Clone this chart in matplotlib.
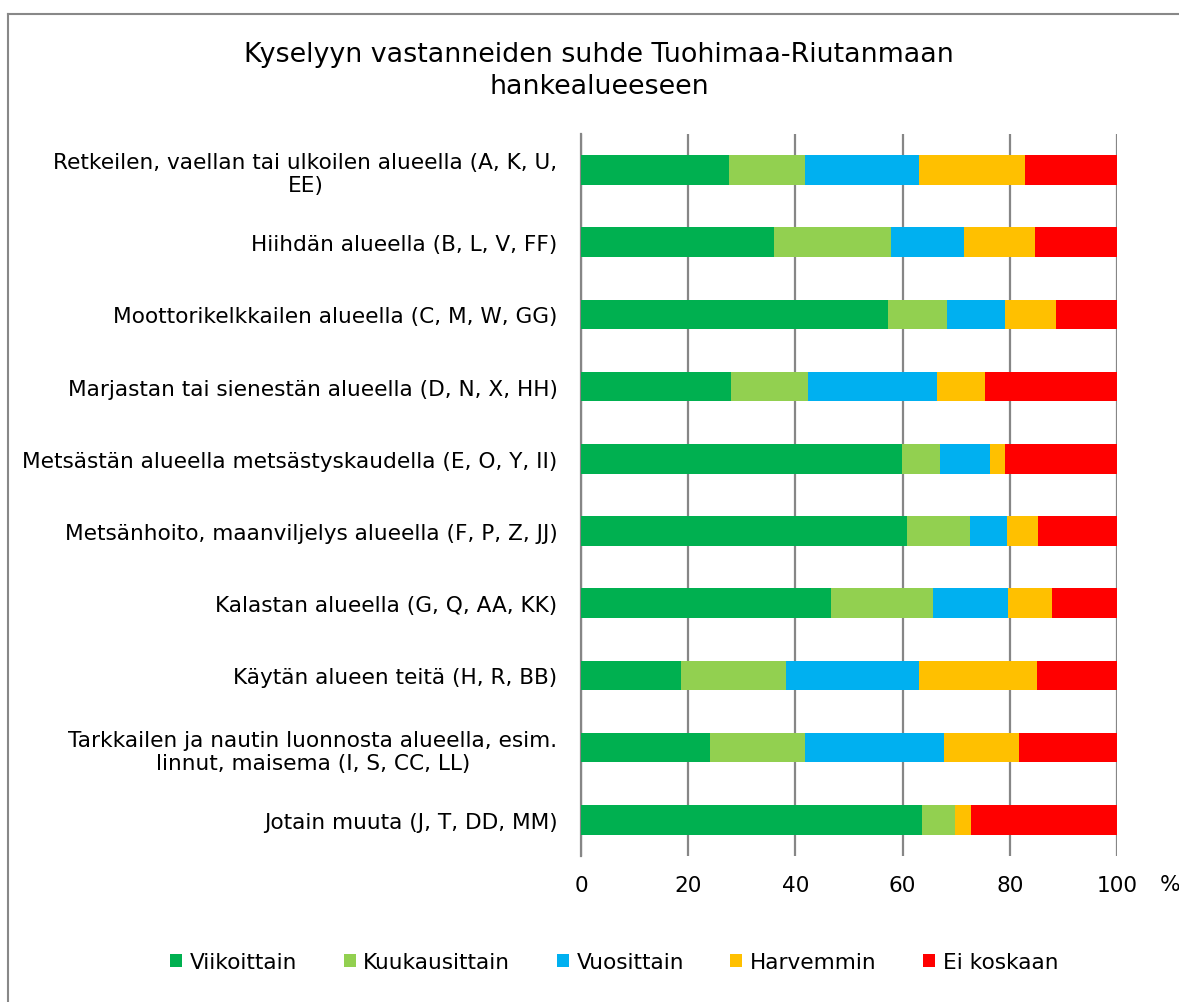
import matplotlib.pyplot as plt
from matplotlib.patches import Patch
from matplotlib.lines import Line2D
import numpy as np

categories = [
    "Retkeilen, vaellan tai ulkoilen alueella (A, K, U,\nEE)",
    "Hiihdän alueella (B, L, V, FF)",
    "Moottorikelkkailen alueella (C, M, W, GG)",
    "Marjastan tai sienestän alueella (D, N, X, HH)",
    "Metsästän alueella metsästyskaudella (E, O, Y, II)",
    "Metsänhoito, maanviljelys alueella (F, P, Z, JJ)",
    "Kalastan alueella (G, Q, AA, KK)",
    "Käytän alueen teitä (H, R, BB)",
    "Tarkkailen ja nautin luonnosta alueella, esim.\nlinnut, maisema (I, S, CC, LL)",
    "Jotain muuta (J, T, DD, MM)",
]

viikoittain = [27.6, 36.0, 57.3, 28.0, 59.9, 60.8, 46.6, 18.7, 24.1, 63.6]
kuukausittain = [14.2, 21.8, 11.0, 14.4, 7.1, 11.8, 19.1, 19.5, 17.7, 6.2]
vuosittain = [21.3, 13.7, 10.8, 24.0, 9.3, 6.9, 14.0, 24.9, 25.9, 0.0]
harvemmin = [19.7, 13.2, 9.5, 9.0, 2.8, 5.8, 8.2, 22.0, 14.0, 3.0]
ei_koskaan = [17.2, 15.3, 11.4, 24.6, 20.9, 14.7, 12.1, 14.9, 18.3, 27.2]

series = ["Viikoittain", "Kuukausittain", "Vuosittain", "Harvemmin", "Ei koskaan"]
colors = ["#00B050", "#92D050", "#00B0F0", "#FFC000", "#FF0000"]

plt.rcParams['font.family'] = ['DejaVu Sans']
fs = 15.6

fig = plt.figure(figsize=(11.79, 10.03), dpi=100)
ax = fig.add_axes([0.4928, 0.1456, 0.4546, 0.7198])

y = np.arange(len(categories))
left = np.zeros(len(categories))
for vals, c, name in zip([viikoittain, kuukausittain, vuosittain, harvemmin, ei_koskaan],
                         colors, series):
    ax.barh(y, vals, left=left, height=0.41, color=c, label=name, zorder=3)
    left += np.array(vals)

ax.set_xlim(0, 100)
ax.set_ylim(len(categories) - 0.5, -0.5)
ax.set_xticks([0, 20, 40, 60, 80, 100])
ax.set_yticks(y)
ax.set_yticklabels(categories, fontsize=fs, multialignment='center', linespacing=1.2)
ax.tick_params(axis='y', length=0, pad=17)
ax.tick_params(axis='x', length=0, pad=14, labelsize=fs)
ax.grid(axis='x', color='#868686', linewidth=1.6, zorder=0)
for s in ['top', 'right', 'bottom']:
    ax.spines[s].set_visible(False)
ax.spines['left'].set_color('#868686')
ax.spines['left'].set_linewidth(1.6)

fig.text(1160 / 1179, 1 - 885 / 1003, "%", fontsize=fs, ha='left', va='center')

fig.text(599 / 1179, 1 - 71 / 1003,
         "Kyselyyn vastanneiden suhde Tuohimaa-Riutanmaan\nhankealueeseen",
         fontsize=19.4, ha='center', va='center', linespacing=1.25)

handles = [Patch(facecolor=c, edgecolor='none') for c in colors]
fig.legend(handles, series, loc='center', bbox_to_anchor=(0.521, 1 - 963 / 1003),
           ncol=5, frameon=False, fontsize=fs, handlelength=0.55, handleheight=0.55,
           handletextpad=0.35, columnspacing=2.15)

# chart area border (cropped at right and bottom)
fig.add_artist(Line2D([8 / 1179, 8 / 1179], [0, 1 - 15 / 1003], color='#888888', lw=1.5))
fig.add_artist(Line2D([8 / 1179, 1], [1 - 15 / 1003, 1 - 15 / 1003], color='#888888', lw=1.5))

fig.savefig("out.png", dpi=100)
